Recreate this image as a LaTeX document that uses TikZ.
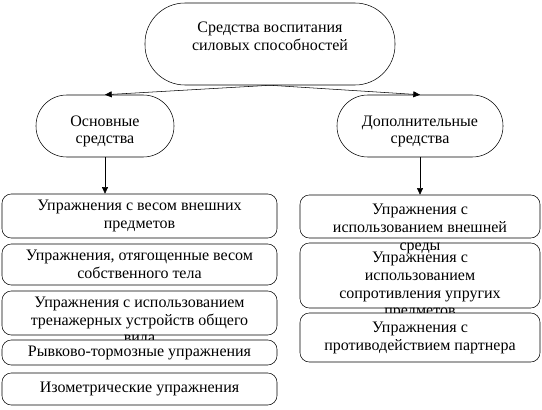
\documentclass[tikz,border=0pt]{standalone}
\usepackage{fontspec}
\setmainfont{Liberation Serif}
\usepackage{tikz}
\usetikzlibrary{arrows.meta}

\newcommand{\cardpad}{5pt}
\newcommand{\cardtxt}[3]{\parbox[c][#1][t]{#2}{\centering\vspace*{\cardpad}#3}}

\tikzset{
    oval/.style={draw, rounded corners=23pt, minimum height=46.5pt, inner sep=0pt},
    card/.style={draw, fill=white, rounded corners=7pt, inner sep=0pt},
    arr/.style={-{Triangle[length=5pt,width=4.5pt]}},
}

\begin{document}
\begin{tikzpicture}[x=0.75pt, y=-0.75pt, font=\fontsize{12}{13.25}\selectfont]
    \useasboundingbox (0,0) rectangle (542,410);

    % --- 1. 頂部節點 ---
    \renewcommand{\cardpad}{14.5pt}
    \node[oval, rounded corners=30pt, minimum width=187.5pt] (top) at (270,44)
        {\cardtxt{61.5pt}{150pt}{Средства воспитания\\силовых способностей}};

    % --- 2. 兩個分支 ---
    \renewcommand{\cardpad}{15.5pt}
    \node[oval, minimum width=103.5pt] (osn) at (105,126) {\cardtxt{46.5pt}{90pt}{Основные\\средства}};
    \node[oval, minimum width=124.5pt] (dop) at (420,126) {\cardtxt{46.5pt}{100pt}{Дополнительные\\средства}};

    % --- 3. 左列 (依序繪製, 下方框蓋住溢出文字) ---
    \def\lw{206.25pt}
    \renewcommand{\cardpad}{4.5pt}
    \node[card] (L1) at (139.5,216) {\cardtxt{33pt}{\lw}{Упражнения с весом внешних\\предметов}};
    \node[card] (L2) at (139.5,264.5) {\cardtxt{30.75pt}{\lw}{Упражнения, отягощенные весом\\собственного тела}};
    \node[card] (L3) at (139.5,313) {\cardtxt{33pt}{\lw}{Упражнения с использованием\\тренажерных устройств общего\\вида}};
    \node[card, minimum width=\lw, minimum height=18.75pt] (L4) at (139.5,352.5) {Рывково-тормозные упражнения};
    \node[card, minimum width=\lw, minimum height=24pt] (L5) at (139.5,389) {Изометрические упражнения};

    % --- 4. 右列 (R2 先畫, 讓 R1 的文字露出) ---
    \def\rw{180pt}
    \renewcommand{\cardpad}{7pt}
    \node[card] (R2) at (420,275.5) {\cardtxt{48.75pt}{\rw}{Упражнения с\\использованием\\сопротивления упругих\\предметов}};
    \node[card] (R1) at (420,216.5) {\cardtxt{32.25pt}{\rw}{Упражнения с\\использованием внешней\\среды}};
    \node[card] (R3) at (420,337.5) {\cardtxt{36.75pt}{\rw}{Упражнения с\\противодействием партнера}};

    % --- 5. 箭頭 ---
    \draw[arr] (top.south) -- (osn.north);
    \draw[arr] (top.south) -- (dop.north);
    \draw[arr] (osn.south) -- (osn.south |- L1.north);
    \draw[arr] (dop.south) -- (dop.south |- R1.north);
\end{tikzpicture}
\end{document}
